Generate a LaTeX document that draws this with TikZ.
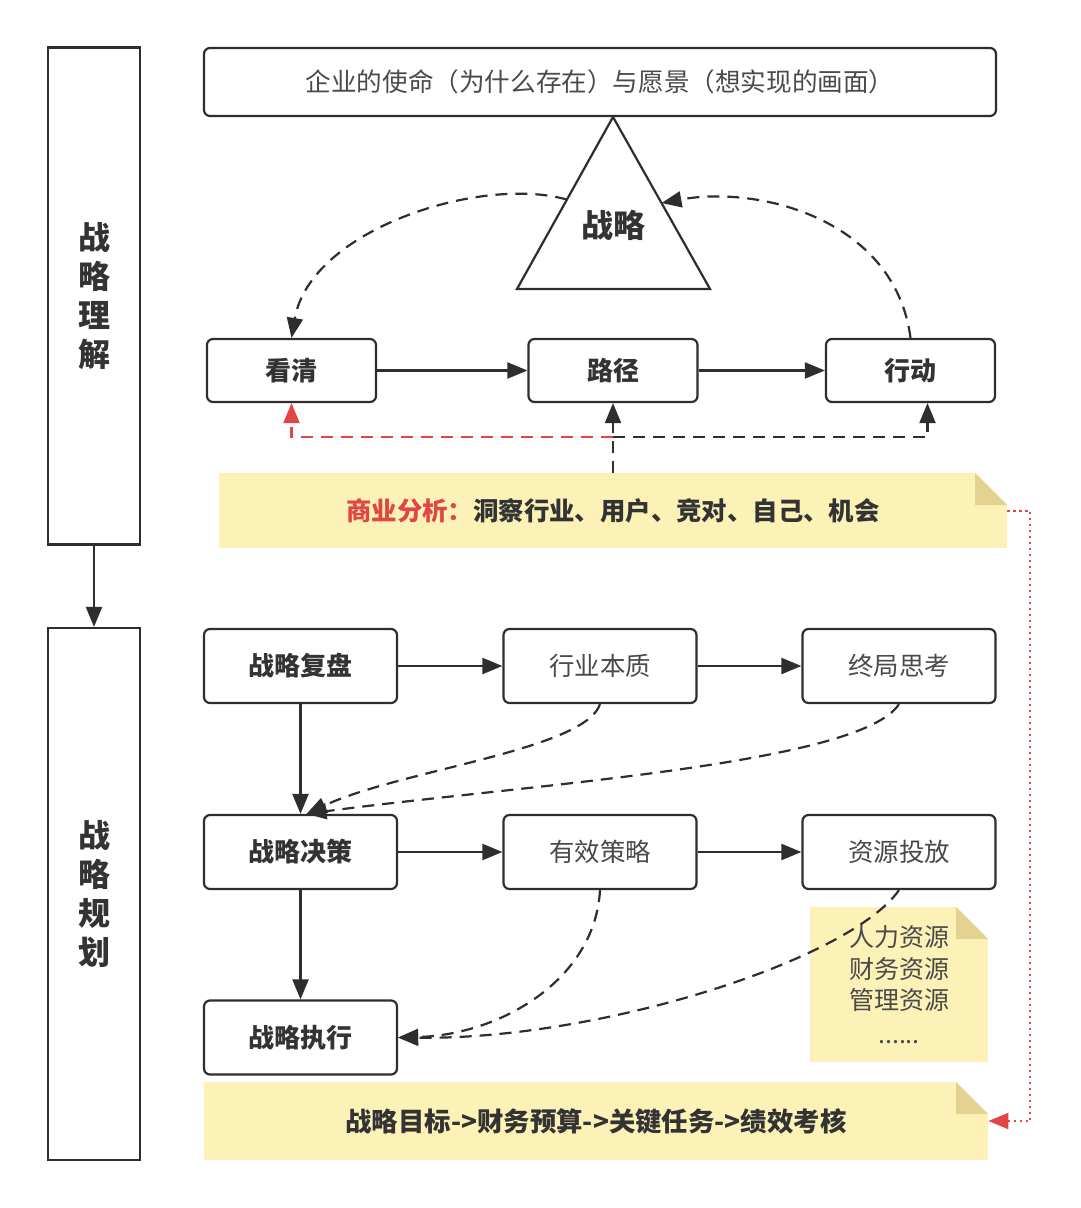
\documentclass[tikz,border=0pt]{standalone}
\usepackage{fontspec}
\setmainfont{Noto Sans CJK SC}
\usetikzlibrary{arrows.meta,calc}
\definecolor{lineC}{HTML}{2E2E2E}
\definecolor{textC}{HTML}{333333}
\definecolor{softC}{HTML}{4A4A4A}
\definecolor{noteC}{HTML}{FCF1B6}
\definecolor{foldC}{HTML}{E3D290}
\definecolor{redC}{HTML}{E04646}
\begin{document}
\begin{tikzpicture}[x=0.5pt,y=-0.5pt]
				\tikzstyle{Box} = [rectangle, rounded corners=3pt, draw=lineC, line width=1.1pt, minimum width=84.5pt, minimum height=31.5pt, inner sep=0pt, text=textC, font=\fontsize{13pt}{15pt}\selectfont\bfseries]
				\tikzstyle{Wide} = [Box, minimum width=96.5pt, minimum height=37pt]
				\tikzstyle{Plain} = [Wide, text=softC, font=\fontsize{12.7pt}{15pt}\selectfont]
				\tikzstyle{Side} = [rectangle, draw=lineC, line width=1.1pt, minimum width=46pt, inner sep=0pt, text=textC, align=center, font=\fontsize{16pt}{19.5pt}\selectfont\bfseries]
				\tikzstyle{Note} = [rectangle, fill=noteC, inner sep=0pt, text=textC, path picture={
					\fill[white] ([xshift=-16pt]path picture bounding box.north east) -- (path picture bounding box.north east) -- ([yshift=-16pt]path picture bounding box.north east) -- cycle;
					\fill[foldC] ([xshift=-16pt]path picture bounding box.north east) -- ([xshift=-16pt,yshift=-16pt]path picture bounding box.north east) -- ([yshift=-16pt]path picture bounding box.north east) -- cycle;}]
				\tikzstyle{Arrow} = [draw=lineC, line width=1.1pt, -{Triangle[length=10pt,width=8pt]}]
				\tikzstyle{DashArrow} = [Arrow, dash pattern=on 6pt off 4pt]
				\tikzstyle{RedDash} = [draw=redC, line width=1.1pt, dash pattern=on 6pt off 4pt, -{Triangle[length=10pt,width=8pt]}, redC]
				\tikzstyle{RedDot} = [draw=redC, line width=1pt, dash pattern=on 1.2pt off 1.8pt, -{Triangle[length=10pt,width=8pt]}, redC]
				\useasboundingbox (0,0) rectangle (1080,1208);
				\fill[white] (0,0) rectangle (1080,1208);
				\node (understand) at (94,296) [Side, minimum height=248.5pt] {战\\略\\理\\解};
				\node (plan) at (94,894) [Side, minimum height=266pt] {战\\略\\规\\划};
				\node (mission) at (600,82) [Box, minimum width=396pt, minimum height=34pt, text=softC, font=\fontsize{12.8pt}{15pt}\selectfont] {企业的使命（为什么存在）与愿景（想实现的画面）};
				\coordinate (tA) at (613,117);
				\coordinate (tL) at (517,289);
				\coordinate (tR) at (710,289);
				\draw [draw=lineC, line width=1.1pt, line join=miter] (tA) -- (tL) -- (tR) -- cycle;
				\node (strategy) at (613,225) [text=textC, font=\fontsize{16pt}{19pt}\selectfont\bfseries] {战略};
				\node (see) at (291.5,370.5) [Box] {看清};
				\node (path) at (613,370.5) [Box] {路径};
				\node (act) at (910.5,370.5) [Box] {行动};
				\node (biz) at (613,510.5) [Note, minimum width=394pt, minimum height=37.5pt, font=\fontsize{12.7pt}{15pt}\selectfont\bfseries] {{\color{redC}商业分析：}洞察行业、用户、竞对、自己、机会};
				\node (review) at (300.5,666) [Wide] {战略复盘};
				\node (nature) at (600,666) [Plain] {行业本质};
				\node (endgame) at (899,666) [Plain] {终局思考};
				\node (decide) at (300.5,852) [Wide] {战略决策};
				\node (tactics) at (600,852) [Plain] {有效策略};
				\node (invest) at (899,852) [Plain] {资源投放};
				\node (execute) at (300.5,1037.5) [Wide] {战略执行};
				\node (res) at (899,984.5) [Note, minimum width=89pt, minimum height=77.5pt, align=center, text=softC, font=\fontsize{12.5pt}{15.75pt}\selectfont] {人力资源\\财务资源\\管理资源\\[1pt]......};
				\node (goal) at (596,1121) [Note, minimum width=392pt, minimum height=39pt, font=\fontsize{13.2pt}{15pt}\selectfont\bfseries] {战略目标->财务预算->关键任务->绩效考核};
				\coordinate (mid) at (613,437);
				\draw [Arrow] (understand) to (plan);
				\draw [DashArrow] ($(tA)!0.48!(tL)$) .. controls (480,175) and (310,230) .. (see.north);
				\draw [DashArrow] (act.north) .. controls (895,220) and (760,185) .. ($(tA)!0.5!(tR)$);
				\draw [Arrow] (see) to (path);
				\draw [Arrow] (path) to (act);
				\draw [DashArrow] (biz.north) to (path.south);
				\draw [DashArrow] (mid) -| ([xshift=8.5pt]act.south);
				\draw [RedDash] (mid) -| (see.south);
				\draw [RedDot] (biz.east) -- ++(23,0) |- (goal.east);
				\draw [Arrow] (review) to (nature);
				\draw [Arrow] (nature) to (endgame);
				\draw [Arrow] (review) to (decide);
				\draw [DashArrow] (nature.south) .. controls (585,750) and (400,770) .. ([xshift=3pt]decide.north);
				\draw [DashArrow] (endgame.south) .. controls (860,765) and (520,785) .. ([xshift=3pt]decide.north);
				\draw [Arrow] (decide) to (tactics);
				\draw [Arrow] (tactics) to (invest);
				\draw [Arrow] (decide) to (execute);
				\draw [DashArrow] (tactics.south) .. controls (595,980) and (500,1035) .. (execute.east);
				\draw [DashArrow] (invest.south) .. controls (850,960) and (600,1040) .. (execute.east);
			\end{tikzpicture}
\end{document}
